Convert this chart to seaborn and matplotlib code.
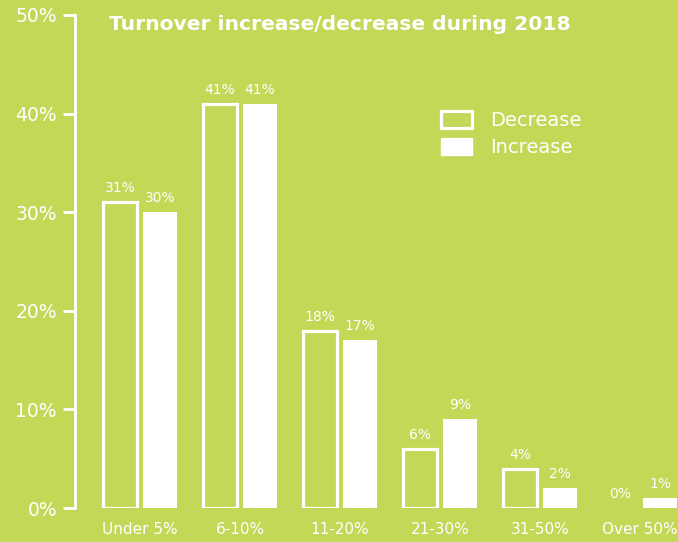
import matplotlib
matplotlib.use("Agg")
import matplotlib.pyplot as plt
import seaborn as sns
import pandas as pd
from matplotlib.patches import Patch

categories = ["Under 5%", "6-10%", "11-20%", "21-30%", "31-50%", "Over 50%"]
decrease = [31, 41, 18, 6, 4, 0]
increase = [30, 41, 17, 9, 2, 1]
yticks = [0, 10, 20, 30, 40, 50]
title = "Turnover increase/decrease during 2018"

BG = "#c2d856"
WHITE = "white"

df = pd.DataFrame({
    "category": categories * 2,
    "share": decrease + increase,
    "direction": ["Decrease"] * len(categories) + ["Increase"] * len(categories),
})

sns.set_theme(style="white")
plt.rcParams["font.family"] = ["DejaVu Sans"]

fig = plt.figure(figsize=(6.78, 5.42), dpi=100, facecolor=BG)
ax = fig.add_axes([75 / 678, 34 / 542, 603 / 678, 493 / 542])
ax.set_facecolor(BG)

sns.barplot(data=df, x="category", y="share", hue="direction",
            order=categories, hue_order=["Decrease", "Increase"],
            palette=[WHITE, WHITE], width=0.8, gap=0.15,
            saturation=1, legend=False, ax=ax)

dec_bars, inc_bars = ax.containers[0], ax.containers[1]
for bar, v in zip(dec_bars, decrease):
    bar.set_facecolor("none")
    bar.set_edgecolor(WHITE)
    bar.set_linewidth(2.3 if v > 0 else 0)
for bar in inc_bars:
    bar.set_facecolor(WHITE)
    bar.set_edgecolor("none")

for cont, vals in ((dec_bars, decrease), (inc_bars, increase)):
    ax.bar_label(cont, labels=[f"{v}%" for v in vals], padding=5,
                 color=WHITE, fontsize=10)

ax.set_xlim(-0.65, 5.38)
ax.set_ylim(0, 50)
ax.set_yticks(yticks)
ax.set_yticklabels([f"{t}%" for t in yticks], fontsize=13.5, color=WHITE)
ax.set_xlabel("")
ax.set_ylabel("")
ax.tick_params(axis="y", length=9, width=2, color=WHITE, pad=4, left=True)
ax.tick_params(axis="x", length=0, pad=10, labelsize=11, labelcolor=WHITE)

for side in ("top", "right", "bottom"):
    ax.spines[side].set_visible(False)
ax.spines["left"].set_color(WHITE)
ax.spines["left"].set_linewidth(2)

handles = [Patch(facecolor="none", edgecolor=WHITE, linewidth=2.3, label="Decrease"),
           Patch(facecolor=WHITE, edgecolor=WHITE, label="Increase")]
leg = ax.legend(handles=handles, loc="upper left", bbox_to_anchor=(0.607, 0.805),
                frameon=False, fontsize=14, labelcolor=WHITE,
                handlelength=1.6, handleheight=0.95, handletextpad=0.9,
                labelspacing=0.4, borderaxespad=0, borderpad=0)

fig.text(340 / 678, 1 - 25 / 542, title, ha="center", va="center",
         color=WHITE, fontsize=14.6, fontweight="bold")

fig.savefig("out.png", dpi=100, facecolor=BG)
